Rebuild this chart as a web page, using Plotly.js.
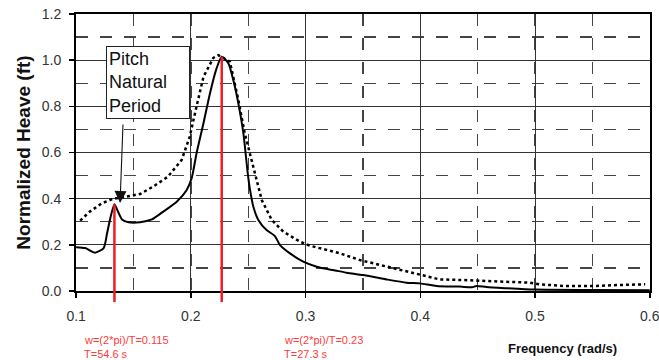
<!DOCTYPE html>
<html>
<head>
<meta charset="utf-8">
<script src="https://cdn.plot.ly/plotly-3.0.1.min.js"></script>
<style>html,body{margin:0;padding:0;background:#fff;}#chart{width:659px;height:360px;}</style>
</head>
<body>
<div id="chart"></div>
<script>
// Solid curve
const freqSolid = [0.100,0.108,0.1165,0.124,0.127,0.130,0.1334,0.136,0.140,0.1456,0.1557,0.166,0.176,0.1877,0.1964,0.2008,0.205,0.211,0.2167,0.222,0.2269,0.2327,0.237,0.2414,0.2458,0.2496,0.2516,0.2545,0.2588,0.266,0.2733,0.2777,0.2864,0.298,0.3097,0.320,0.324,0.3358,0.350,0.3707,0.388,0.3997,0.4142,0.4345,0.445,0.449,0.4577,0.475,0.500,0.550,0.600];
const heaveSolid = [0.190,0.186,0.166,0.186,0.25,0.32,0.376,0.35,0.31,0.298,0.298,0.31,0.344,0.387,0.438,0.49,0.597,0.727,0.857,0.958,1.015,0.987,0.914,0.813,0.683,0.51,0.438,0.365,0.308,0.264,0.238,0.199,0.163,0.127,0.105,0.094,0.091,0.079,0.069,0.050,0.036,0.033,0.022,0.019,0.016,0.022,0.017,0.012,0.006,0.004,0.003];
// Dotted curve
const freqDotted = [0.1035,0.112,0.1224,0.1325,0.144,0.1557,0.167,0.180,0.192,0.199,0.205,0.211,0.2196,0.224,0.234,0.2414,0.247,0.2545,0.2618,0.2705,0.2806,0.295,0.3038,0.3184,0.33,0.3474,0.3648,0.3822,0.3997,0.417,0.4345,0.4577,0.475,0.4955,0.504,0.5245,0.5535,0.574,0.596];
const heaveDotted = [0.305,0.344,0.38,0.40,0.409,0.42,0.452,0.495,0.568,0.668,0.80,0.928,1.01,1.022,0.994,0.828,0.683,0.539,0.394,0.308,0.257,0.214,0.196,0.178,0.163,0.134,0.113,0.091,0.069,0.05,0.048,0.045,0.04,0.036,0.029,0.022,0.022,0.026,0.029];
// Red marker lines
const redLineX = [0.1334, 0.2269];
const redLineTop = [0.376, 1.015];
const redLabels = [["w=(2*pi)/T=0.115", "T=54.6 s"], ["w=(2*pi)/T=0.23", "T=27.3 s"]];
const redLabelX = [0.1055, 0.2797];
// Texts
const xTickVals = [0.1,0.2,0.3,0.4,0.5,0.6];
const yTickVals = [0.0,0.2,0.4,0.6,0.8,1.0,1.2];
const yTitle = "Normalized Heave (ft)";
const xTitle = "Frequency (rad/s)";
const boxText = "Pitch<br>Natural<br>Period";
const arrowTip = [0.1383, 0.381];
const arrowTail = [0.1409, 0.728];
const boxPos = [0.1261, 1.062];

const yMax = 1.2;
const FONT = "'Liberation Sans', Arial, sans-serif";

const traces = [
  {x: freqDotted, y: heaveDotted, mode: 'lines', name: 'dotted', line: {color: '#000', width: 2.5, dash: 'dot'}, hoverinfo: 'skip'},
  {x: freqSolid, y: heaveSolid, mode: 'lines', name: 'solid', line: {color: '#000', width: 2, shape: 'spline', smoothing: 0.6}, hoverinfo: 'skip'}
];

const shapes = redLineX.map((xv, i) => ({
  type: 'line', xref: 'x', yref: 'paper', x0: xv, x1: xv, y0: -0.04, y1: redLineTop[i] / yMax,
  line: {color: '#ee1c25', width: 2.5}, layer: 'above'
}));

const annotations = [];
redLabels.forEach((lines, i) => {
  lines.forEach((t, j) => {
    annotations.push({
      xref: 'x', yref: 'paper', x: redLabelX[i], y: -0.176 - j * 0.05, xanchor: 'left', yanchor: 'middle',
      text: t, showarrow: false, font: {family: FONT, size: 11, color: '#ff3b3b'}
    });
  });
});
annotations.push({
  xref: 'paper', yref: 'paper', x: 0.8467, y: -0.206, xanchor: 'center', yanchor: 'middle',
  text: '<b>' + xTitle + '</b>', showarrow: false,
  font: {family: FONT, size: 13, color: '#111'}
});
annotations.push({
  xref: 'x', yref: 'y', x: boxPos[0], y: boxPos[1], xanchor: 'left', yanchor: 'top',
  text: boxText, showarrow: false, align: 'left', width: 78,
  font: {family: FONT, size: 18, color: '#111'},
  bordercolor: '#222', borderwidth: 1, borderpad: 2, bgcolor: '#fff'
});
annotations.push({
  xref: 'x', yref: 'y', axref: 'x', ayref: 'y', x: arrowTip[0], y: arrowTip[1], ax: arrowTail[0], ay: arrowTail[1],
  text: '', showarrow: true, arrowhead: 2, arrowsize: 2.2, arrowwidth: 1.1, arrowcolor: '#111', standoff: 0
});

const tickFont = {family: FONT, size: 14, color: '#333'};

const layout = {
  width: 659, height: 360,
  margin: {l: 76, r: 9, t: 14, b: 69},
  paper_bgcolor: '#fff', plot_bgcolor: '#fff',
  showlegend: false,
  xaxis: {
    range: [0.0999, 0.6002], tickvals: xTickVals, tickformat: '.1f', tickfont: tickFont,
    ticklabeloverflow: 'allow',
    showline: true, linecolor: '#000', linewidth: 2, mirror: true,
    ticks: 'outside', ticklen: 5, tickwidth: 1.5, tickcolor: '#000',
    showgrid: true, gridcolor: '#333', gridwidth: 1, zeroline: false,
    ticklabelstandoff: 6,
    minor: {dtick: 0.05, tick0: 0.1, showgrid: true, gridcolor: '#444', gridwidth: 1.3, griddash: '12px,12px', ticks: ''}
  },
  yaxis: {
    range: [0, yMax], tickvals: yTickVals, tickformat: '.1f', tickfont: tickFont,
    showline: true, linecolor: '#000', linewidth: 2, mirror: true,
    ticks: 'outside', ticklen: 5, tickwidth: 1.5, tickcolor: '#000',
    showgrid: true, gridcolor: '#333', gridwidth: 1, zeroline: false,
    ticklabelstandoff: 5,
    minor: {dtick: 0.1, tick0: 0, showgrid: true, gridcolor: '#444', gridwidth: 1.3, griddash: '12px,12px', ticks: ''},
    title: {text: '<b>' + yTitle + '</b>', font: {family: FONT, size: 19, color: '#111'}, standoff: 6}
  },
  shapes: shapes,
  annotations: annotations
};

Plotly.newPlot('chart', traces, layout, {displayModeBar: false, staticPlot: true});
</script>
</body>
</html>
